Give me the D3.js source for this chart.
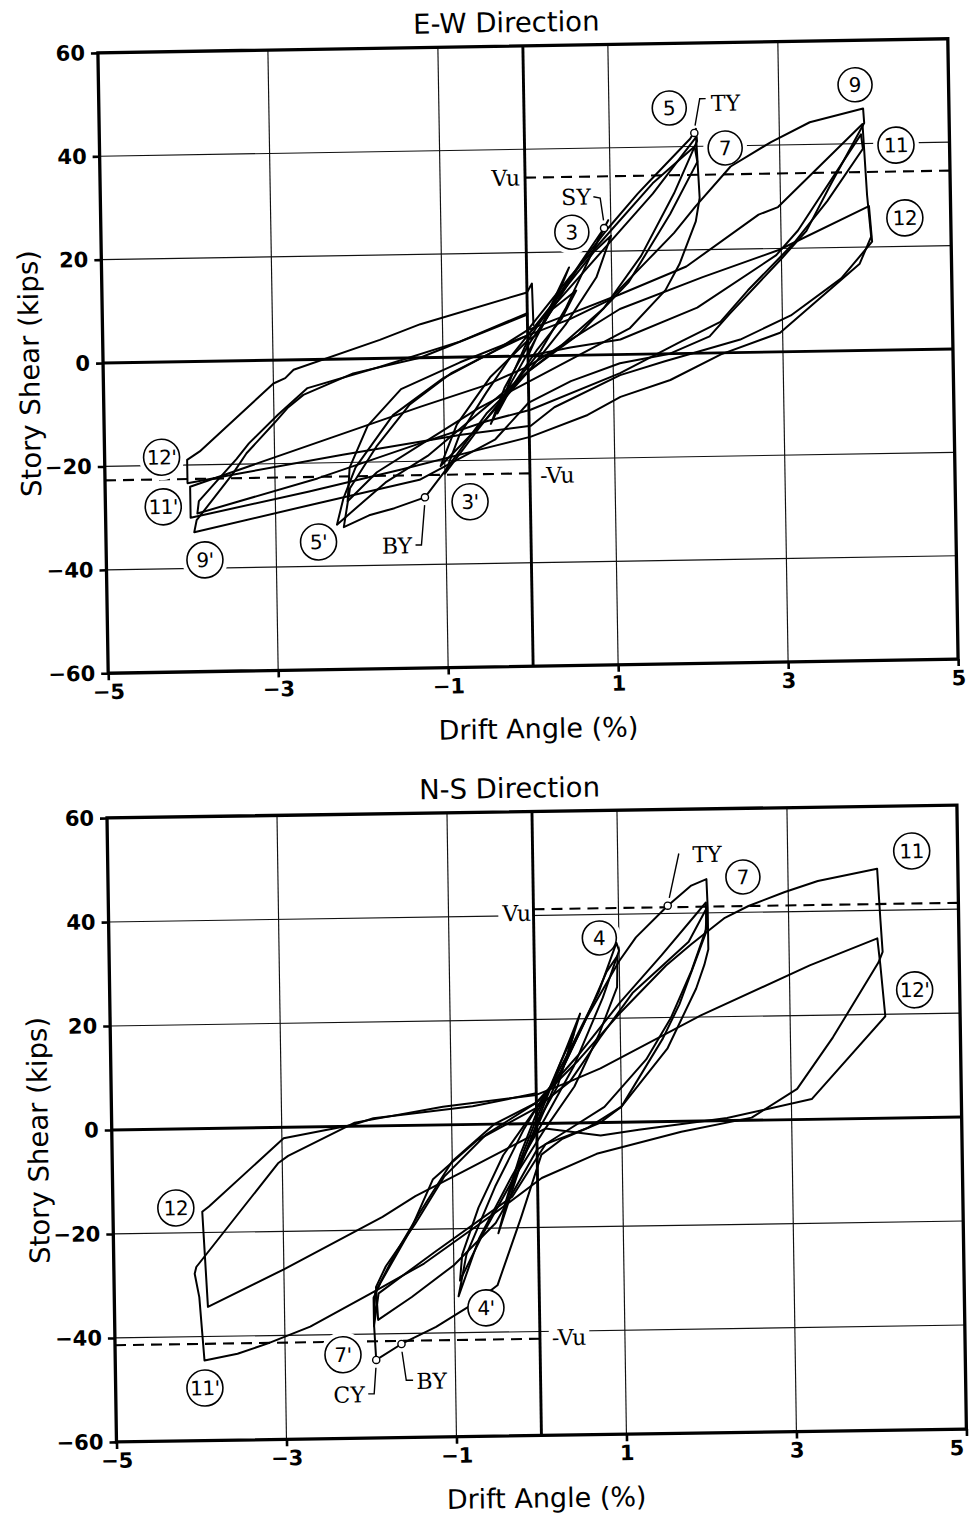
<!DOCTYPE html>
<html>
<head>
<meta charset="utf-8">
<script src="https://cdn.jsdelivr.net/npm/d3@7"></script>
<style>
  html, body { margin: 0; padding: 0; background: #fff; }
  svg { display: block; }
</style>
</head>
<body>
<svg id="chart" width="970" height="1515"></svg>
<script>
// ---------- shared axis definitions ----------
const xTicks = [-5, -3, -1, 1, 3, 5];
const yTicks = [-60, -40, -20, 0, 20, 40, 60];
const gridX = [-3, -1, 1, 3];
const gridY = [-40, -20, 20, 40];

// ---------- E-W direction: story shear (kips) vs drift angle (%) ----------
const ewCycle1 = [[0,0],[0.2,7],[0.5,17],[0.32,10],[0.05,2],[-0.2,-5],[-0.45,-13],[-0.28,-6],[0,2]];
const ewCycle2 = [[0,2],[0.3,9],[0.58,12.5],[0.4,7],[0.1,1],[-0.2,-6],[-0.37,-11],[-0.2,-4],[0,3]];
const ewCycle3 = [[0,3],[0.3,10],[0.6,17],[0.92,24.5],[0.97,26],[0.75,19],[0.45,9],[0.15,1],[-0.2,-6],[-0.6,-14],[-1.0,-22.5],[-0.82,-15],[-0.5,-7],[-0.2,0],[0,4]];
const ewCycle4 = [[0,4],[0.4,12],[0.8,20],[1.0,23],[0.82,15],[0.45,6],[0,-3],[-0.5,-12],[-1.05,-21],[-0.85,-13],[-0.45,-4],[0,3]];
const ewCycle5 = [[0,3],[0.1,4],[0.65,18],[0.97,24.5],[1.32,31],[1.48,33.7],[1.95,41.5],[2.02,43.4],[2.03,41],[1.75,31],[1.35,19],[0.9,9],[0.4,2],[0,-3],[-0.5,-11],[-1.0,-22],[-1.24,-27],[-1.6,-29],[-1.9,-30.3],[-2.2,-32.5],[-2.12,-25],[-1.8,-17],[-1.4,-9],[-0.9,-3],[-0.4,1],[0,5]];
const ewCycle6 = [[0,5],[0.5,15],[1.0,24],[1.5,33],[2.0,40],[2.03,37],[1.7,27],[1.2,14],[0.6,4],[0,-3],[-0.6,-11],[-1.2,-19],[-1.7,-24],[-2.28,-32],[-2.2,-27],[-2.05,-21],[-1.6,-11],[-1.0,-4],[-0.4,1],[0,4]];
const ewCycle7 = [[0,4],[0.5,13],[1.0,22],[1.5,31],[2.02,41.8],[2.05,30],[2.0,25.5],[1.8,17.3],[1.63,12.3],[1.2,5],[0.6,0],[0,-5],[-0.6,-10],[-1.2,-16],[-1.8,-22],[-2.15,-27.5],[-2.12,-21],[-1.9,-13],[-1.5,-6],[-0.8,-1],[0,4]];
const ewCycle9 = [[0,4],[0.5,7],[0.96,10.5],[1.43,18.2],[1.74,23.3],[2.0,28.4],[2.42,36],[2.9,40.6],[3.36,44.3],[3.99,46.8],[4.0,44],[3.6,32.4],[3.3,23.3],[3.0,18],[2.38,7.5],[2.14,3.2],[1.67,0],[1.08,-1.7],[0.5,-5],[0,-9],[-0.4,-16],[-1.3,-23.6],[-2.5,-27.8],[-3.96,-33],[-3.93,-30.7],[-3.49,-21.7],[-3.33,-17.9],[-3.0,-12.2],[-2.84,-9.3],[-2.65,-6.8],[-2.06,-2.8],[-1.27,0],[0,8]];
const ewCycle10 = [[0,0],[0.5,1.5],[1.09,2.9],[2.0,8.8],[2.94,18.7],[3.2,23.4],[3.96,41.8],[3.98,39],[3.55,29],[3.15,21],[2.6,12],[2.27,6],[1.8,2.3],[1.08,-3.6],[0.02,-10.4],[-0.5,-12.5],[-1.28,-16.5],[-2.5,-23],[-3.92,-29.4],[-3.9,-27],[-3.45,-19],[-3.3,-16],[-2.95,-10.5],[-2.6,-5.5],[-1.74,-1.6],[-0.8,3],[0,8.3]];
const ewCycle11 = [[0,5],[0.5,8],[1.09,11.6],[1.88,16.8],[2.74,26.6],[2.97,28],[3.98,43.8],[4.02,30],[4.06,22],[3.92,16.8],[2.97,3.7],[2.27,-0.3],[1.67,-5.1],[1.08,-8.2],[0.69,-11.6],[0.02,-15.6],[-0.6,-18],[-1.5,-21.5],[-2.6,-25.5],[-4.0,-30.2],[-4.0,-24.2],[-1.28,-9.5],[-0.5,-5.5],[0,-2]];
const ewCycle12 = [[0,-2],[0.4,2],[1.09,8.8],[2.07,14.7],[2.97,19.7],[4.04,27.9],[4.07,21],[3.7,14],[3.1,7],[2.5,2.5],[1.6,-1.5],[1.08,-4],[0.3,-10],[0.02,-13.5],[-0.8,-15],[-2.2,-18.5],[-3.5,-22],[-4.03,-23.5],[-4.03,-19],[-3.88,-17.4],[-3.0,-4.5],[-2.86,-3.5],[-2.76,-1.9],[-1.74,3.6],[-1.26,6.5],[0,12.3],[0.06,14],[0.07,6]];
const ewVu = 34.5;
const ewVuNeg = -22.7;

// ---------- N-S direction ----------
const nsCycle1 = [[0,0],[0.2,8],[0.53,21],[0.35,12],[0.05,1],[-0.2,-8],[-0.47,-21],[-0.3,-11],[0,1]];
const nsCycle2 = [[0,1],[0.3,12],[0.45,17],[0.25,7],[0,0],[-0.25,-10],[-0.4,-16],[-0.2,-6],[0,2]];
const nsCycle3 = [[0,2],[0.4,14],[0.75,25],[0.97,34.5],[1.0,33],[0.8,24],[0.45,11],[0.1,1],[-0.3,-10],[-0.7,-22],[-0.95,-33],[-0.85,-25],[-0.5,-12],[-0.15,-1],[0,3]];
const nsCycle4 = [[0,3],[0.3,10],[0.6,20],[0.85,29],[0.98,32],[0.97,26],[0.75,17],[0.45,7],[0.1,-1],[-0.3,-11],[-0.65,-21],[-0.93,-30],[-0.9,-25],[-0.7,-16],[-0.4,-6],[0,3]];
const nsCycle5 = [[0,3],[0.3,10],[0.6,20],[1.0,31],[1.2,35.5],[1.58,41.5],[1.86,45.3],[2.04,46.5],[2.05,41],[2.05,33],[2.0,30],[1.9,25.5],[1.55,14],[1.0,3],[0.75,0],[0.3,-3],[0.05,-6],[-0.2,-18],[-0.49,-31],[-0.78,-34.5],[-1.22,-38.8],[-1.63,-42],[-1.93,-45],[-1.95,-38],[-1.95,-33],[-1.86,-30],[-1.5,-20],[-1.23,-10.4],[-0.7,-3],[0,3]];
const nsCycle6 = [[0,3],[0.4,8],[0.76,16.3],[1.15,24.8],[1.82,34.5],[2.04,41],[2.02,36],[1.7,22.5],[1.5,16],[1.0,3],[0.6,-1],[0.1,-4],[-0.3,-14],[-1.23,-24.5],[-1.89,-32.2],[-1.95,-38.5],[-1.93,-32],[-1.7,-25],[-1.4,-17],[-1.0,-7],[-0.5,0],[0,4]];
const nsCycle7 = [[0,4],[0.5,13],[1.0,23],[1.5,32],[2.03,42],[2.03,37],[1.85,29],[1.6,20],[1.3,12],[0.8,3],[0.3,-2],[0,-5],[-0.5,-19],[-1.0,-27],[-1.5,-33],[-1.9,-37.3],[-1.92,-31],[-1.8,-27],[-1.45,-19],[-1.1,-10],[-0.6,-2],[0,4]];
const nsCycle11 = [[0,4],[0.5,12],[1.0,21],[1.55,30],[1.85,34],[2.25,39],[2.53,41.2],[2.96,43.8],[3.35,45.8],[4.05,48],[4.08,38],[4.1,32],[4.05,30],[3.5,15.7],[3.07,5.9],[2.53,0.5],[1.7,-2],[0.7,-6],[0.05,-10.5],[-0.5,-17],[-1.35,-26.6],[-1.98,-32.2],[-2.7,-38.4],[-3.2,-41.5],[-3.56,-43.4],[-3.95,-44.6],[-4.0,-32.4],[-4.05,-27.9],[-4.03,-26.6],[-3.05,-6.9],[-2.93,-5.5],[-2.14,0.7],[-1.1,3.5],[0,5.5]];
const nsCycle12 = [[0,5.5],[0.4,8],[0.76,10.4],[1.95,20.3],[3.24,29.6],[4.04,34.6],[4.07,29.6],[4.12,19.6],[3.24,3.9],[2.24,0.5],[1.2,-1.5],[0.75,-2.5],[0.1,-1],[-0.87,-9],[-1.44,-13.6],[-1.83,-17.5],[-3.0,-27.3],[-3.9,-34.3],[-3.95,-16],[-3.87,-15],[-2.98,-2.1],[-2.16,0.3],[-1.92,1.5],[-0.75,3.5],[0,5.8]];
const nsVu = 41.2;
const nsVuNeg = -41.4;

// ---------- annotations (cycle numbers and yield points) ----------
const ewCycleTags = [["5",1.71,47.5],["7",2.36,39.6],["9",3.9,51.4],["11",4.37,39.6],["12",4.46,25.5],["3",0.54,23.8],
                     ["12'",-4.33,-18.4],["11'",-4.32,-28],["9'",-3.84,-38.4],["5'",-2.5,-35.3],["3'",-0.71,-28]];
const nsCycleTags = [["7",2.47,46.8],["11",4.46,51.3],["12'",4.47,24.6],["4",0.77,35.5],
                     ["12",-4.26,-15.2],["11'",-3.95,-49.9],["7'",-2.32,-43.9],["4'",-0.63,-35.3]];

const ewYieldMarks = [
  { name: "TY", at: [2.0, 42.6], leader: [[2.01,44],[2.07,49.2],[2.14,49.2]], text: [2.2, 46.8], anchor: "start" },
  { name: "SY", at: [0.92, 24.5], leader: [[0.915,26],[0.88,30.3],[0.8,30.6]], text: [0.77, 29.1], anchor: "end" },
  { name: "BY", at: [-1.24, -27], leader: [[-1.245,-28.5],[-1.29,-36.2],[-1.36,-36.2]], text: [-1.4, -37.8], anchor: "end" }
];
const nsYieldMarks = [
  { name: "TY", at: [1.58, 41.5], leader: [[1.6,43],[1.72,51.5]], text: [1.88, 49.8], anchor: "start" },
  { name: "CY", at: [-1.93, -45], leader: [[-1.935,-46.5],[-1.96,-51.5],[-2.03,-51.5]], text: [-2.07, -53.1], anchor: "end" },
  { name: "BY", at: [-1.63, -42], leader: [[-1.625,-43.5],[-1.58,-49],[-1.5,-49]], text: [-1.46, -50.7], anchor: "start" }
];

// ---------- panel layout ----------
const panels = [
  {
    title: "E-W Direction",
    cycles: [ewCycle1, ewCycle2, ewCycle3, ewCycle4, ewCycle5, ewCycle6, ewCycle7, ewCycle9, ewCycle10, ewCycle11, ewCycle12],
    vu: ewVu, vuNeg: ewVuNeg,
    tags: ewCycleTags, marks: ewYieldMarks,
    vuText: { pos: [-0.06, 33.0] }, vuNegText: { pos: [0.12, -24.6] },
    layout: { ox: 528, oy: 356, sx: 85, sy: 5.17, angle: -0.95, titleX: -0.19, pullLastTick: false }
  },
  {
    title: "N-S Direction",
    cycles: [nsCycle1, nsCycle2, nsCycle3, nsCycle4, nsCycle5, nsCycle6, nsCycle7, nsCycle11, nsCycle12],
    vu: nsVu, vuNeg: nsVuNeg,
    tags: nsCycleTags, marks: nsYieldMarks,
    vuText: { pos: [-0.03, 39.0] }, vuNegText: { pos: [0.14, -42.7] },
    layout: { ox: 536.7, oy: 1123.5, sx: 85, sy: 5.2, angle: -0.87, titleX: -0.26, pullLastTick: true }
  }
];

const SANS = "'DejaVu Sans', 'Liberation Sans', sans-serif";
const SERIF = "'DejaVu Serif', 'Liberation Serif', serif";

const svg = d3.select("#chart");
svg.append("rect").attr("width", 970).attr("height", 1515).attr("fill", "#fff");

function drawPanel(cfg) {
  const { ox, oy, sx, sy, angle, titleX, pullLastTick } = cfg.layout;
  const x = d3.scaleLinear().domain([-5, 5]).range([ox - 5 * sx, ox + 5 * sx]);
  const y = d3.scaleLinear().domain([-60, 60]).range([oy + 60 * sy, oy - 60 * sy]);

  const g = svg.append("g").attr("transform", `rotate(${angle},${ox},${oy})`);
  const gridLayer = g.append("g");
  const haloLayer = g.append("g");
  const curveLayer = g.append("g");
  const frameLayer = g.append("g");
  const labelLayer = g.append("g");

  // thin grid lines
  gridLayer.selectAll("line.gx").data(gridX).join("line")
    .attr("x1", d => x(d)).attr("x2", d => x(d))
    .attr("y1", y(60)).attr("y2", y(-60))
    .attr("stroke", "#111").attr("stroke-width", 1.15);
  gridLayer.selectAll("line.gy").data(gridY).join("line")
    .attr("x1", x(-5)).attr("x2", x(5))
    .attr("y1", d => y(d)).attr("y2", d => y(d))
    .attr("stroke", "#111").attr("stroke-width", 1.15);

  // ultimate shear lines
  gridLayer.append("line")
    .attr("x1", x(0)).attr("x2", x(5)).attr("y1", y(cfg.vu)).attr("y2", y(cfg.vu))
    .attr("stroke", "#000").attr("stroke-width", 2.1).attr("stroke-dasharray", "11,7");
  gridLayer.append("line")
    .attr("x1", x(-5)).attr("x2", x(0)).attr("y1", y(cfg.vuNeg)).attr("y2", y(cfg.vuNeg))
    .attr("stroke", "#000").attr("stroke-width", 2.1).attr("stroke-dasharray", "11,7");

  // hysteresis loops
  const line = d3.line().x(d => x(d[0])).y(d => y(d[1]));
  curveLayer.selectAll("path").data(cfg.cycles).join("path")
    .attr("d", line)
    .attr("fill", "none").attr("stroke", "#000")
    .attr("stroke-width", 2.0).attr("stroke-linejoin", "round").attr("stroke-linecap", "round");

  // zero lines and frame
  frameLayer.append("line").attr("x1", x(0)).attr("x2", x(0)).attr("y1", y(60)).attr("y2", y(-60))
    .attr("stroke", "#000").attr("stroke-width", 2.9);
  frameLayer.append("line").attr("x1", x(-5)).attr("x2", x(5)).attr("y1", y(0)).attr("y2", y(0))
    .attr("stroke", "#000").attr("stroke-width", 2.9);
  frameLayer.append("rect")
    .attr("x", x(-5)).attr("y", y(60)).attr("width", x(5) - x(-5)).attr("height", y(-60) - y(60))
    .attr("fill", "none").attr("stroke", "#000").attr("stroke-width", 3.3);

  // axes
  const fmt = d3.format("d");
  const ax = frameLayer.append("g").attr("transform", `translate(0,${y(-60)})`)
    .call(d3.axisBottom(x).tickValues(xTicks).tickSize(7).tickPadding(4).tickFormat(fmt));
  const ay = frameLayer.append("g").attr("transform", `translate(${x(-5)},0)`)
    .call(d3.axisLeft(y).tickValues(yTicks).tickSize(7).tickPadding(6).tickFormat(fmt));
  [ax, ay].forEach(a => {
    a.select(".domain").remove();
    a.selectAll(".tick line").attr("stroke", "#000").attr("stroke-width", 2.6);
    a.selectAll(".tick text").attr("fill", "#000")
      .attr("font-family", SANS).attr("font-size", 21).attr("font-weight", "bold");
  });
  // keep the last drift label inside the page edge
  if (pullLastTick) {
    ax.selectAll(".tick text").filter(d => d === 5).attr("text-anchor", "end").attr("x", -3);
  }

  // titles
  labelLayer.append("text").attr("x", x(titleX)).attr("y", y(60) - 14)
    .attr("text-anchor", "middle").attr("font-family", SANS).attr("font-size", 27.5).attr("fill", "#000")
    .text(cfg.title);
  labelLayer.append("text").attr("x", x(0.05)).attr("y", y(-60) + 72)
    .attr("text-anchor", "middle").attr("font-family", SANS).attr("font-size", 27).attr("fill", "#000")
    .text("Drift Angle (%)");
  labelLayer.append("text")
    .attr("transform", `translate(${x(-5) - 64},${y(-1.8)}) rotate(-90)`)
    .attr("text-anchor", "middle").attr("font-family", SANS).attr("font-size", 27.5).attr("fill", "#000")
    .text("Story Shear (kips)");

  // cycle number tags in circles
  cfg.tags.forEach(([t, d, v]) => {
    const r = t.length > 1 ? 18 : 17;
    haloLayer.append("circle").attr("cx", x(d)).attr("cy", y(v)).attr("r", r + 5).attr("fill", "#fff");
    labelLayer.append("circle").attr("cx", x(d)).attr("cy", y(v)).attr("r", r)
      .attr("fill", "#fff").attr("stroke", "#000").attr("stroke-width", 1.6);
    labelLayer.append("text").attr("x", x(d)).attr("y", y(v)).attr("dy", "0.36em")
      .attr("text-anchor", "middle").attr("font-family", SANS).attr("font-size", 20).attr("fill", "#000")
      .attr("letter-spacing", t.length > 1 ? -0.5 : 0)
      .text(t);
  });

  // serif text with white backing so grid lines break around it
  function serifLabel(txt, pos, anchor) {
    const el = labelLayer.append("text").attr("x", x(pos[0])).attr("y", y(pos[1]))
      .attr("text-anchor", anchor).attr("font-family", SERIF).attr("font-size", 22).attr("fill", "#000")
      .text(txt);
    const b = el.node().getBBox();
    haloLayer.append("rect").attr("x", b.x - 3).attr("y", b.y + 2).attr("width", b.width + 6).attr("height", b.height - 4)
      .attr("fill", "#fff");
  }

  // yield points with leader lines
  cfg.marks.forEach(m => {
    curveLayer.append("path")
      .attr("d", d3.line().x(p => x(p[0])).y(p => y(p[1]))(m.leader))
      .attr("fill", "none").attr("stroke", "#000").attr("stroke-width", 1.4);
    labelLayer.append("circle").attr("cx", x(m.at[0])).attr("cy", y(m.at[1])).attr("r", 3.6)
      .attr("fill", "#fff").attr("stroke", "#000").attr("stroke-width", 1.4);
    serifLabel(m.name, m.text, m.anchor);
  });

  serifLabel("Vu", cfg.vuText.pos, "end");
  serifLabel("-Vu", cfg.vuNegText.pos, "start");
}

panels.forEach(drawPanel);
</script>
</body>
</html>
